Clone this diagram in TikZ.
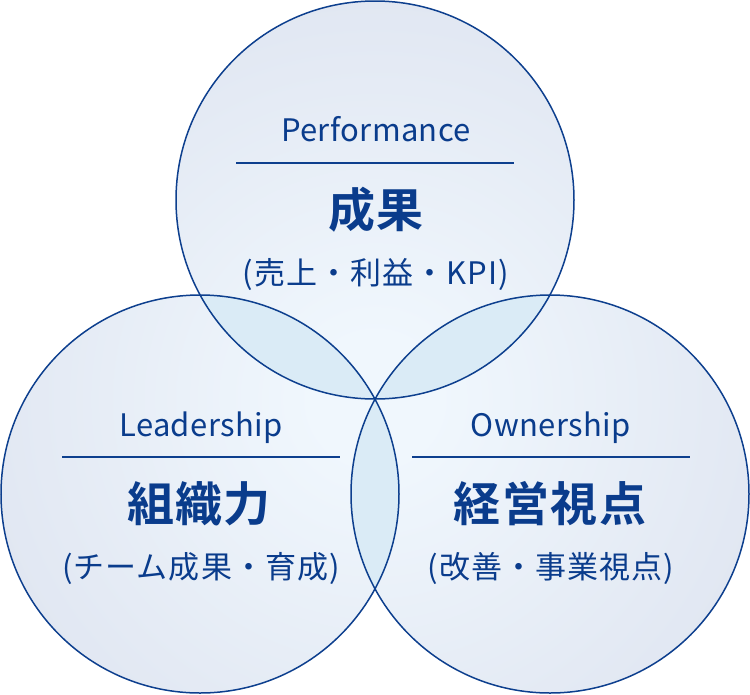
\documentclass[tikz,border=0pt]{standalone}
\usepackage{fontspec}
\setmainfont{Noto Sans CJK JP}
\newfontfamily\jpbold{Noto Sans CJK JP Bold}
\definecolor{navy}{HTML}{0D3F8E}
\definecolor{txt}{HTML}{0A3C8C}
\definecolor{inC}{HTML}{F0F7FD}
\definecolor{outC}{HTML}{E1E7F2}
\definecolor{lensC}{HTML}{DAEBF6}
\pgfdeclareradialshading{vennshade}{\pgfpoint{0bp}{0bp}}{color(0bp)=(inC); color(60bp)=(inC); color(400bp)=(outC); color(430bp)=(outC)}
\tikzset{
  ring/.style={draw=navy, line width=1.5pt},
  latin/.style={text=txt, font=\fontsize{31}{33}\selectfont\addfontfeature{LetterSpace=1.3}, anchor=base, inner sep=0pt},
  head/.style={text=txt, font=\fontsize{47}{50}\jpbold\addfontfeature{LetterSpace=3}, anchor=center, inner sep=0pt},
  sub/.style={text=txt, font=\fontsize{31}{33}\selectfont\addfontfeature{LetterSpace=3.5}, anchor=center, inner sep=0pt},
  rule/.style={draw=navy, line width=2pt},
}
\begin{document}
\begin{tikzpicture}[x=1pt,y=-1pt]
\useasboundingbox (0,0) rectangle (750,694);
\coordinate (cT) at (375,200);
\coordinate (cL) at (200,494);
\coordinate (cR) at (550,494);
\def\R{199pt}
% base fill
\begin{scope}
  \clip (cT) circle[radius=\R] (cL) circle[radius=\R] (cR) circle[radius=\R];
  \node[inner sep=0pt, outer sep=0pt] (bg) at (375,399) {\pgfuseshading{vennshade}};
\end{scope}
% lenses
\begin{scope}
  \clip (cT) circle[radius=\R];
  \fill[lensC] (cL) circle[radius=\R];
  \fill[lensC] (cR) circle[radius=\R];
\end{scope}
\begin{scope}
  \clip (cL) circle[radius=\R];
  \fill[lensC] (cR) circle[radius=\R];
\end{scope}
% rings
\draw[ring] (cT) circle[radius=\R];
\draw[ring] (cL) circle[radius=\R];
\draw[ring] (cR) circle[radius=\R];
% top
\node[latin] (pT) at (376,141.7) {Performance};
\coordinate (rT1) at (236,162.7);
\coordinate (rT2) at (514,162.7);
\draw[rule] (rT1) -- (rT2);
\node[head] (hT) at (376,210) {成果};
\node[sub] (sT) at (376,274.5) {(売上・利益・KPI)};
% left
\node[latin] (pL) at (201,436) {Leadership};
\coordinate (rL1) at (62,456.7);
\coordinate (rL2) at (340,456.7);
\draw[rule] (rL1) -- (rL2);
\node[head] (hL) at (199,504) {組織力};
\node[sub] (sL) at (201,568.5) {(チーム成果・育成)};
% right
\node[latin] (pR) at (551,436) {Ownership};
\coordinate (rR1) at (412,456.7);
\coordinate (rR2) at (690,456.7);
\draw[rule] (rR1) -- (rR2);
\node[head] (hR) at (550,504) {経営視点};
\node[sub] (sR) at (551,568.5) {(改善・事業視点)};
\end{tikzpicture}
\end{document}
